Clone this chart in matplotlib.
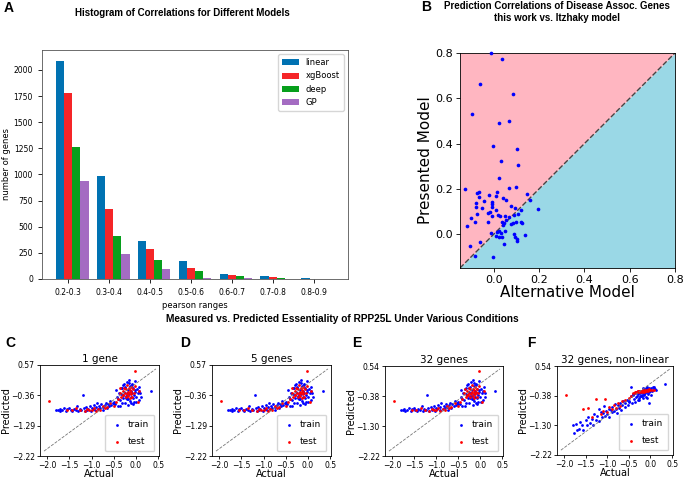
import matplotlib
matplotlib.use('Agg')
import matplotlib.pyplot as plt
import numpy as np

# ---- panel A: histogram of correlations ----
ranges = ['0.2-0.3', '0.3-0.4', '0.4-0.5', '0.5-0.6', '0.6-0.7', '0.7-0.8', '0.8-0.9']
linear = [2086, 982, 368, 170, 51, 32, 5]
xgboost = [1782, 669, 291, 106, 42, 19, 4]
deep = [1264, 416, 179, 77, 32, 10, 3]
gp = [941, 243, 93, 13, 13, 2, 1]

# ---- panel B: presented vs alternative model ----
alt_model = [-0.013, 0.034, -0.060, 0.083, -0.097, 0.022, 0.067, -0.004, 0.100, 0.030,
             0.108, 0.022, -0.128, 0.068, 0.096, 0.015, -0.065, -0.073, -0.020, 0.009,
             -0.066, 0.148, 0.041, 0.053, -0.043, -0.007, 0.159, -0.079, -0.007, -0.079,
             -0.051, -0.007, 0.074, 0.121, 0.195, 0.094, 0.011, -0.017, -0.025, -0.075,
             0.019, 0.025, -0.007, -0.103, 0.050, 0.065, 0.089, 0.106, 0.036, -0.085,
             -0.025, 0.055, 0.074, 0.083, 0.097, 0.120, 0.125, 0.044, 0.039, -0.121,
             0.049, 0.021, -0.012, 0.031, 0.009, 0.024, 0.036, 0.089, 0.095, 0.100,
             0.102, 0.136, -0.060, 0.044, -0.107, -0.084, -0.004, 0.012]
presented_model = [0.800, 0.772, 0.663, 0.617, 0.530, 0.492, 0.501, 0.389, 0.374, 0.321,
                   0.304, 0.248, 0.199, 0.205, 0.208, 0.184, 0.187, 0.183, 0.173, 0.168,
                   0.162, 0.178, 0.159, 0.150, 0.147, 0.143, 0.149, 0.137, 0.131, 0.118,
                   0.114, 0.121, 0.124, 0.106, 0.109, 0.117, 0.106, 0.097, 0.093, 0.087,
                   0.084, 0.080, 0.078, 0.072, 0.080, 0.075, 0.083, 0.087, 0.055, 0.055,
                   0.053, 0.061, 0.043, 0.050, 0.053, 0.055, 0.047, 0.047, 0.040, 0.036,
                   0.013, 0.015, 0.003, 0.003, -0.009, -0.013, -0.015, -0.000, -0.012, -0.022,
                   -0.029, -0.004, -0.037, -0.044, -0.053, -0.097, -0.103, 0.007]

# ---- panels C-F: measured vs predicted essentiality ----
train_actual = [-1.80, -1.76, -1.72, -1.70, -1.66, -1.62, -1.58, -1.55, -1.50, -1.47,
                -1.44, -1.40, -1.36, -1.33, -1.30, -1.27, -1.24, -1.20, -1.18, -1.15,
                -1.12, -1.10, -1.07, -1.04, -1.02, -1.00, -0.97, -0.95, -0.92, -0.90,
                -0.88, -0.85, -0.83, -0.80, -0.78, -0.75, -0.73, -0.70, -0.68, -0.65,
                -0.63, -0.60, -0.58, -0.55, -0.52, -0.50,
                -0.50, -0.46, -0.43, -0.40, -0.38, -0.36, -0.34, -0.32, -0.30, -0.29,
                -0.28, -0.26, -0.25, -0.24, -0.22, -0.21, -0.20, -0.19, -0.18, -0.17,
                -0.16, -0.15, -0.14, -0.13, -0.12, -0.11, -0.10, -0.09, -0.08, -0.07,
                -0.06, -0.05, -0.04, -0.03, -0.02, 0.00, 0.02, 0.04, 0.06, 0.08,
                0.10, 0.12, -0.44, 0.07, 0.33, -0.35, -0.31, -0.27, -0.23, -0.19,
                -0.15, -0.11, -0.07, -0.03, 0.01, -0.33, -0.25, -0.17, -0.09, -0.41]
train_pred_linear = [-0.80, -0.82, -0.78, -0.84, -0.80, -0.76, -0.83, -0.79, -0.74, -0.82,
                     -0.85, -0.78, -0.80, -0.70, -0.83, -0.77, -0.81, -0.35, -0.75, -0.84,
                     -0.72, -0.80, -0.77, -0.68, -0.83, -0.74, -0.79, -0.66, -0.81, -0.73,
                     -0.60, -0.78, -0.70, -0.76, -0.64, -0.72, -0.80, -0.66, -0.58, -0.74,
                     -0.62, -0.70, -0.52, -0.66, -0.58, -0.62,
                     -0.55, -0.62, -0.40, -0.68, -0.30, -0.50, -0.15, -0.58, -0.35, -0.05,
                     -0.45, -0.25, -0.60, -0.10, -0.38, 0.05, -0.28, -0.48, -0.20, -0.65,
                     0.12, -0.32, -0.52, -0.08, -0.40, -0.22, -0.60, 0.00, -0.30, -0.45,
                     -0.15, -0.35, -0.55, 0.08, -0.25, -0.42, -0.18, -0.30, -0.50, -0.10,
                     -0.28, -0.40, -0.20, -0.22, -0.22, -0.70, -0.12, -0.02, -0.45, -0.38,
                     0.02, -0.26, -0.62, -0.20, -0.55, -0.33, -0.12, -0.46, -0.05, -0.48]
train_pred_nonlinear = [-1.30, -1.55, -1.25, -1.46, -1.40, -1.20, -1.30, -1.45, -1.15, -1.28,
                        -1.05, -1.22, -1.10, -1.30, -0.95, -1.12, -1.02, -0.80, -1.18, -0.88,
                        -1.05, -0.92, -0.70, -1.00, -0.85, -0.95, -0.78, -1.05, -0.82, -0.90,
                        -0.72, -0.86, -0.65, -0.80, -0.92, -0.68, -0.75, -0.60, -0.82, -0.66,
                        -0.55, -0.72, -0.62, -0.50, -0.68, -0.58,
                        -0.55, -0.40, -0.62, -0.35, -0.48, -0.30, -0.42, -0.28, -0.52, -0.33,
                        -0.25, -0.45, -0.30, -0.38, -0.22, -0.40, -0.28, -0.35, -0.20, -0.45,
                        -0.30, -0.18, -0.36, -0.25, -0.30, -0.15, -0.42, -0.22, -0.28, -0.18,
                        -0.32, -0.20, -0.26, -0.14, -0.24, -0.20, -0.15, -0.22, -0.12, -0.18,
                        -0.16, -0.20, -0.12, -0.10, -0.03, -0.58, -0.38, -0.50, -0.26, -0.40,
                        -0.33, -0.24, -0.12, -0.60, -0.36, -0.28, -0.26, -0.15, -0.44, -0.34]
test_actual = [-1.95, -1.55, -1.45, -1.35, -1.25, -1.15, -1.10, -1.05, -1.00, -0.95,
               -0.90, -0.85, -0.80, -0.75, -0.70, -0.65, -0.58, -0.50, -0.45, -0.40,
               -0.36, -0.33, -0.30, -0.28, -0.26, -0.25, -0.23, -0.22, -0.20, -0.19,
               -0.18, -0.17, -0.16, -0.15, -0.14, -0.13, -0.12, -0.11, -0.10, -0.08,
               -0.06, -0.04, -0.02, -0.03, 0.04, -0.35, 0.08, -0.30]
test_pred_linear = [-0.52, -0.80, -0.82, -0.76, -0.80, -0.84, -0.78, -0.82, -0.80, -0.74,
                    -0.83, -0.78, -0.81, -0.70, -0.76, -0.72, -0.60, -0.68, -0.55, -0.48,
                    -0.30, -0.40, -0.22, -0.35, -0.12, -0.28, -0.42, -0.18, -0.32, -0.05,
                    -0.25, -0.38, -0.15, -0.30, -0.45, -0.20, -0.10, -0.33, -0.25, -0.40,
                    -0.18, -0.30, -0.08, 0.39, -0.55, -0.15, -0.22, -0.36]
test_pred_nonlinear = [-0.37, -0.79, -0.75, -1.05, -0.47, -0.95, -0.85, -0.47, -0.90, -0.72,
                       -0.80, -0.66, -0.75, -0.62, -0.70, -0.55, -0.50, -0.45, -0.40, -0.30,
                       -0.28, -0.26, -0.25, -0.24, -0.22, -0.26, -0.23, -0.25, -0.22, -0.27,
                       -0.24, -0.21, -0.23, -0.26, -0.22, -0.24, -0.20, -0.25, -0.22, -0.21,
                       -0.23, -0.20, -0.19, -0.18, -0.20, -0.30, -0.19, -0.26]

W, H = 685, 479
fig = plt.figure(figsize=(W / 100, H / 100), dpi=100)
bold = dict(family='Liberation Sans', weight='bold')


def px_axes(l, t, r, b):
    return fig.add_axes([l / W, 1 - b / H, (r - l) / W, (b - t) / H])


# A
ax = px_axes(42, 50, 348, 279)
x = np.arange(len(ranges))
series = [('linear', linear, '#0072b2'), ('xgBoost', xgboost, '#f52528'),
          ('deep', deep, '#079f1c'), ('GP', gp, '#a46cc2')]
for i, (name, vals, col) in enumerate(series):
    ax.bar(x + (i - 1) * 0.2, vals, 0.2, color=col, label=name)
ax.set_xticks(x, ranges)
ax.tick_params(labelsize=5.5, length=3, width=0.6)
ax.set_xlabel('pearson ranges', fontsize=6, labelpad=3)
ax.set_ylabel('number of genes', fontsize=6, labelpad=2)
ax.legend(loc='upper right', fontsize=6, handlelength=2.0, borderpad=0.5)
for s in ax.spines.values():
    s.set_linewidth(0.6)
    s.set_color('#555555')
fig.text(9 / W, 1 - 8 / H, 'A', fontsize=10, ha='center', va='center', **bold)
fig.text(182 / W, 1 - 13 / H, 'Histogram of Correlations for Different Models',
         fontsize=7, ha='center', va='center', **bold)

# B
ax = px_axes(460, 53, 675, 268)
lo, hi = -0.15, 0.8
ax.fill_between([lo, hi], [lo, hi], hi, color='#ffb6c1', lw=0)
ax.fill_between([lo, hi], lo, [lo, hi], color='#9ad8e6', lw=0)
ax.plot([lo, hi], [lo, hi], ls='--', color='#444444', lw=1)
ax.scatter(alt_model, presented_model, s=7, color='blue', lw=0, zorder=3, clip_on=False)
ax.set_xlim(lo, hi)
ax.set_ylim(lo, hi)
ax.set_xticks([0, 0.2, 0.4, 0.6, 0.8])
ax.set_yticks([0, 0.2, 0.4, 0.6, 0.8])
ax.tick_params(labelsize=8, length=3, width=0.6, pad=2)
ax.set_xlabel('Alternative Model', fontsize=11, labelpad=0)
ax.set_ylabel('Presented Model', fontsize=11, labelpad=2)
for s in ax.spines.values():
    s.set_linewidth(0.6)
fig.text(426 / W, 1 - 7 / H, 'B', fontsize=10, ha='center', va='center', **bold)
fig.text(557 / W, 1 - 12 / H,
         'Prediction Correlations of Disease Assoc. Genes\nthis work vs. Itzhaky model',
         fontsize=7, ha='center', va='center', linespacing=1.2, **bold)

# C-F
fig.text(342 / W, 1 - 319 / H,
         'Measured vs. Predicted Essentiality of RPP25L Under Various Conditions',
         fontsize=7.3, ha='center', va='center', **bold)

panels = [
    ('C', '1 gene', (40, 365, 159, 456), 10, 0.57, train_pred_linear, test_pred_linear),
    ('D', '5 genes', (212, 365, 331, 456), 185, 0.57, train_pred_linear, test_pred_linear),
    ('E', '32 genes', (385, 366, 503, 456), 357, 0.54, train_pred_linear, test_pred_linear),
    ('F', '32 genes, non-linear', (557, 366, 673, 455), 531, 0.54,
     train_pred_nonlinear, test_pred_nonlinear),
]
for letter, title, box, lx, ytop, tr_pred, te_pred in panels:
    ax = px_axes(*box)
    ax.plot([-2.07, 0.45], [-2.07, 0.45], ls='--', color='#777777', lw=0.6)
    ax.scatter(train_actual, tr_pred, s=4, marker='o', color='blue', lw=0, label='train')
    ax.scatter(test_actual, te_pred, s=4, marker='o', color='red', lw=0, label='test')
    ax.set_xlim(-2.16, 0.52)
    ax.set_ylim(-2.22, ytop)
    yt = np.linspace(-2.22, ytop, 4)
    ax.set_yticks(yt, [f'{v:.2f}'.replace('-', '\u2212') for v in yt])
    ax.set_xticks([-2.0, -1.5, -1.0, -0.5, 0.0, 0.5])
    ax.tick_params(labelsize=5.5, length=2.5, width=0.6, pad=1.2)
    ax.set_xlabel('Actual', fontsize=7, labelpad=-0.5)
    ax.set_ylabel('Predicted', fontsize=7, labelpad=0.3)
    ax.set_title(title, fontsize=7.5, pad=2)
    ax.legend(loc='lower right', fontsize=6.5, markerscale=1.0, handletextpad=0.4,
              labelspacing=0.9, borderpad=0.6, handlelength=1.5)
    for s in ax.spines.values():
        s.set_linewidth(0.6)
    fig.text(lx / W, 1 - 343 / H, letter, fontsize=10, ha='center', va='center', **bold)

fig.savefig('out.png', dpi=100)
